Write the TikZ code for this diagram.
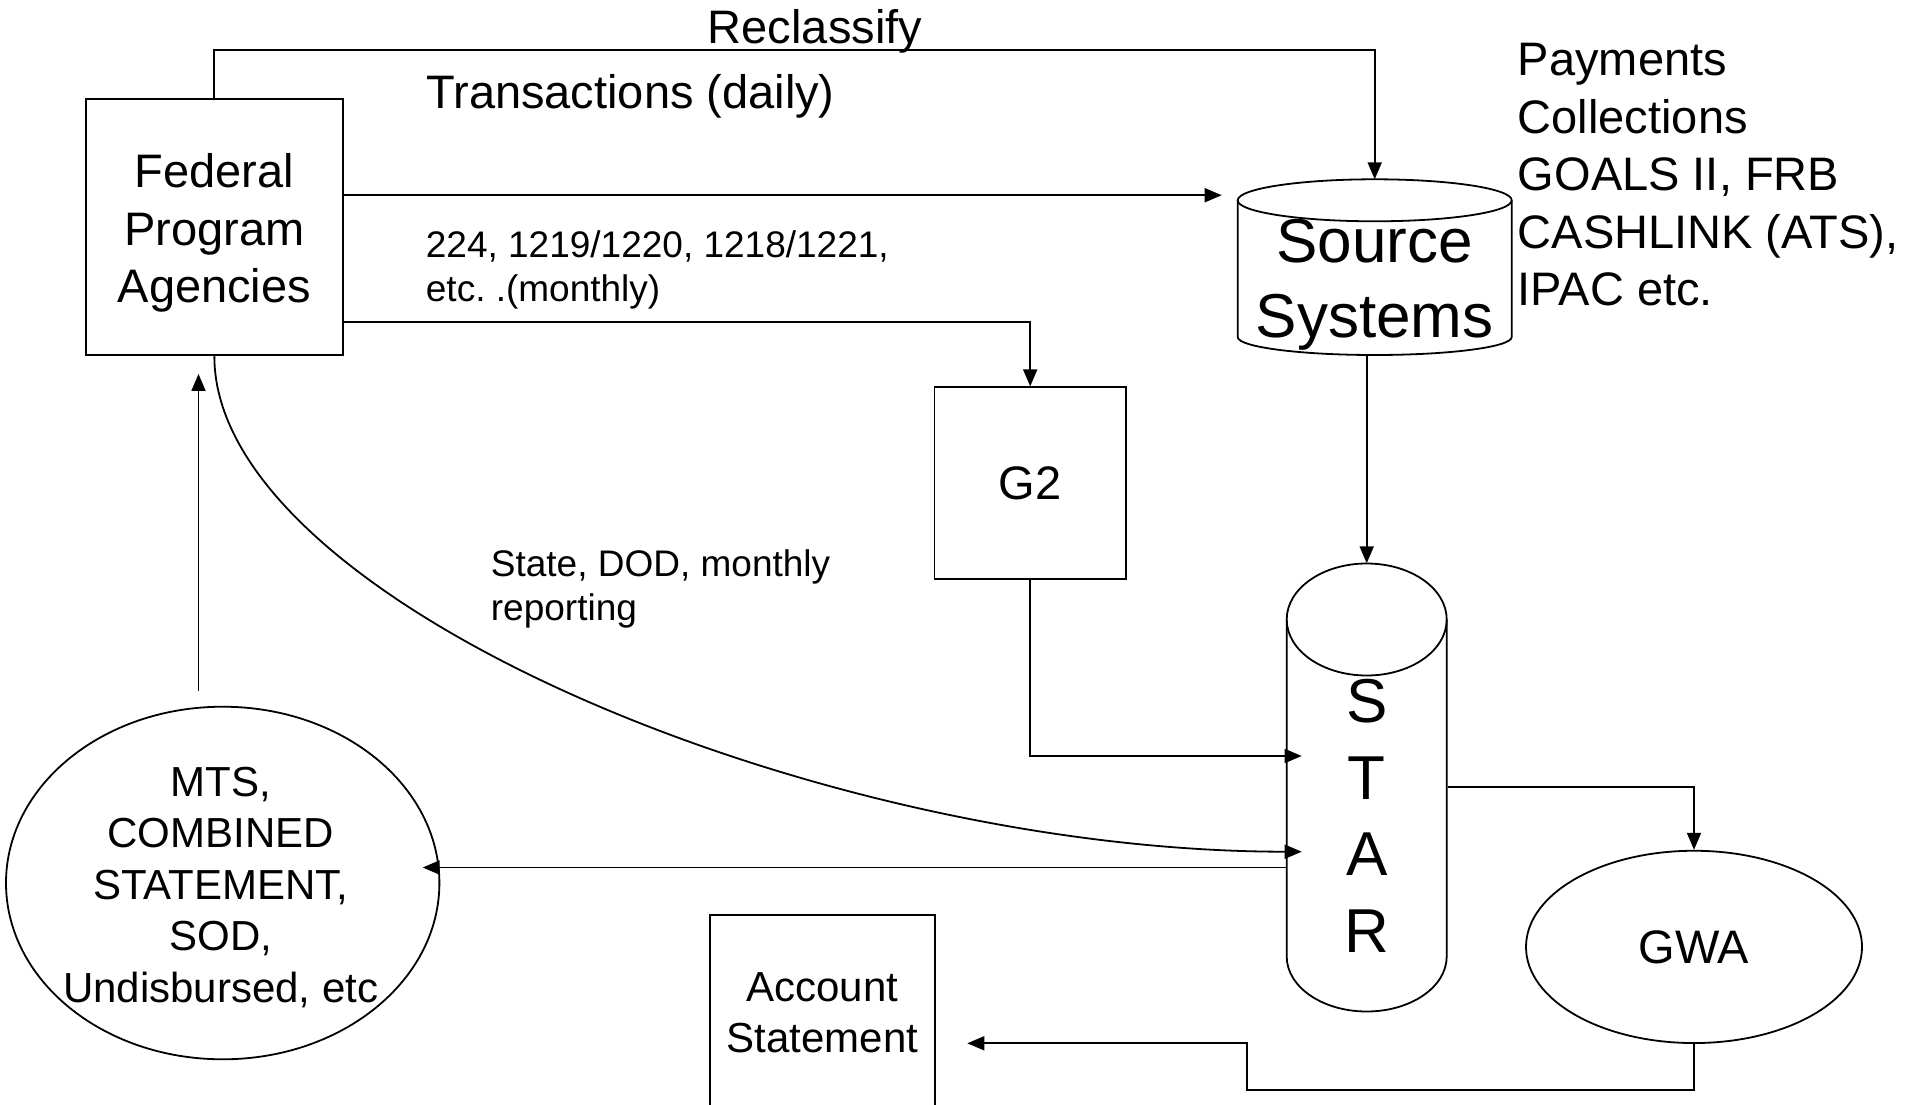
\documentclass[tikz,border=0pt]{standalone}
\usepackage{fontspec}
\setmainfont{Liberation Sans}
\usetikzlibrary{arrows.meta,shapes.geometric}
\frenchspacing

\tikzset{
  box/.style={draw, rectangle, inner sep=0pt, align=center},
  bubble/.style={draw, ellipse, inner sep=0pt},
  lbl/.style={inner sep=0pt, align=left},
  fmain/.style={font=\fontsize{47}{57.5}\selectfont},
  fmid/.style={font=\fontsize{42}{51.5}\selectfont},
  fsmall/.style={font=\fontsize{37}{43.4}\selectfont},
  fbig/.style={font=\fontsize{62}{75}\selectfont},
  fstar/.style={font=\fontsize{62}{76.7}\selectfont},
}

\begin{document}
\begin{tikzpicture}[x=1pt, y=-1pt, line width=1.8pt, >={Triangle[length=17pt,width=14pt]}]
\fill[white] (0,0) rectangle (1906,1105);
\useasboundingbox (0,0) rectangle (1906,1105);

\node[box, minimum width=256.7pt, minimum height=256.3pt] (fed) at (214.35,227.2) {};
\node[fmain, align=center, inner sep=0pt] (fedtext) at (214.35,233) {Federal\\Program\\Agencies};
\node[box, fmain, minimum width=191.5pt, minimum height=192pt] (g2) at (1030.2,483.3) {G2};
\node[bubble, fmain, minimum width=336pt, minimum height=192.3pt] (gwa) at (1694,946.9) {GWA};
\node[bubble, minimum width=433.4pt, minimum height=352.6pt] (mts) at (222.7,883) {};
\node[fmid, align=center, inner sep=0pt] (mtstext) at (220.8,887.5) {MTS,\\COMBINED\\STATEMENT,\\SOD,\\Undisbursed, etc};

% account statement, cut by the lower edge
\draw (710,1106) |- (935,915) -- (935,1106);
\node[fmid, align=center, inner sep=0pt] (acct) at (822.5,1012.5) {Account\\Statement};

% source systems
\draw (1374.7,200.3) ellipse [x radius=137pt, y radius=21pt];
\draw (1237.7,200.3) -- (1237.7,337) arc [start angle=180, end angle=360, x radius=137pt, y radius=18pt] -- (1511.7,200.3);
\node[fbig, align=center, inner sep=0pt] (src) at (1374.5,285) {Source\\Systems};

% STAR
\draw (1366.7,619.5) ellipse [x radius=80pt, y radius=56pt];
\draw (1286.7,619.5) -- (1286.7,956.5) arc [start angle=180, end angle=360, x radius=80pt, y radius=55pt] -- (1446.7,619.5);
\node[fstar, align=center, inner sep=0pt, minimum width=160pt] (star) at (1366.7,815.8) {S\\T\\A\\R};

\node[lbl, fmain, anchor=base] (reclass) at (815,43.3) {Reclassify};
\node[lbl, fmain, anchor=base west] (trans) at (425.5,108.3) {Transactions (daily)};
\node[lbl, fsmall, anchor=west] (forms) at (425,269.9) {224, 1219/1220, 1218/1221,\\etc. .(monthly)};
\node[lbl, fsmall, anchor=west] (state) at (490,588.8) {State, DOD, monthly\\reporting};
\node[lbl, fmain, anchor=west] (pay) at (1517,175) {Payments\\Collections\\GOALS II, FRB\\CASHLINK (ATS),\\IPAC etc.};

\coordinate (srctop) at (1374.7,179.3);
\coordinate (srcbot) at (1366.7,355);
\coordinate (startop) at (1366.7,563.3);
\coordinate (txend) at (1221.7,195.2);
\coordinate (g2in) at (1301.7,756);
\coordinate (fedin) at (1301.7,851.7);
\coordinate (mtsin) at (422.7,867.5);
\coordinate (gwaturn) at (1246.7,1089.7);
\coordinate (acctin) at (967.3,1043.3);

\draw[->] (fed.north) -- ++(0,-48) -| (srctop);
\draw[->] ([yshift=32pt]fed.east) -- (txend);
\draw[->] ([yshift=-95pt]fed.east) -| (g2.north);
\draw[->] (srcbot) -- (startop);
\draw[->] (g2.south) |- (g2in);
\draw[->] (fed.south) .. controls (214.35,600) and (816,851.7) .. (fedin);
\draw[->] (star.west |- mtsin) -- (mtsin);
\draw[->] ([yshift=28.5pt]star.east) -| (gwa.north);
\draw[->] ([xshift=-24.2pt,yshift=15pt]mts.north) -- ([xshift=-15.85pt,yshift=-17.7pt]fed.south);
\draw[->] (gwa.south) |- (gwaturn) |- (acctin);
\end{tikzpicture}
\end{document}
